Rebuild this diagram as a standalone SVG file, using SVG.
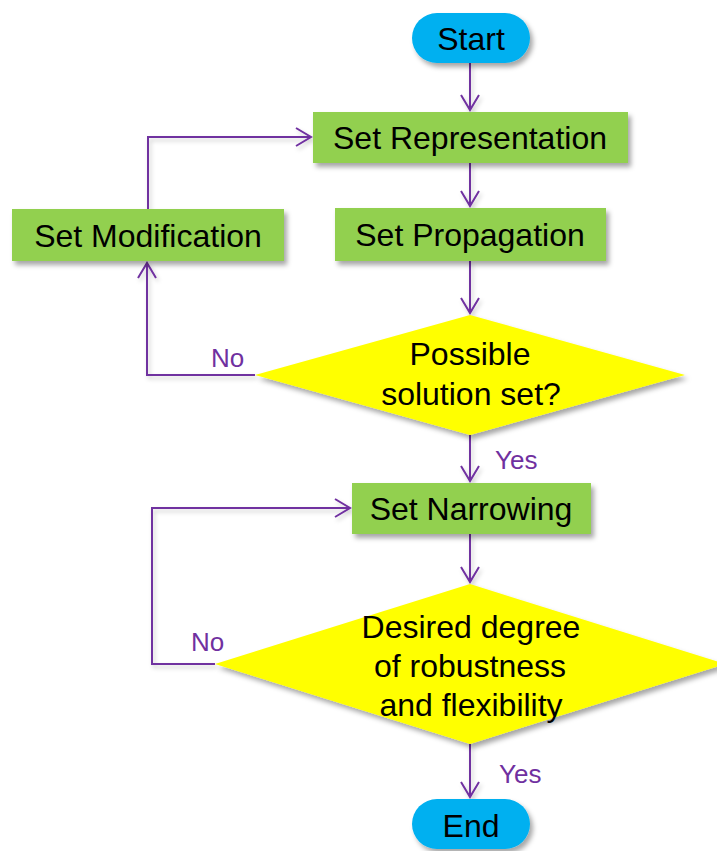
<svg xmlns="http://www.w3.org/2000/svg" width="717" height="851" viewBox="0 0 717 851">
  <defs>
    <filter id="shadow" x="-10%" y="-10%" width="125%" height="135%">
      <feDropShadow dx="3" dy="4" stdDeviation="2.5" flood-color="#000" flood-opacity="0.35"/>
    </filter>
    <filter id="lineShadow" x="-10%" y="-10%" width="130%" height="130%">
      <feDropShadow dx="2" dy="3" stdDeviation="2" flood-color="#000" flood-opacity="0.2"/>
    </filter>
    <marker id="arrow" markerUnits="userSpaceOnUse" markerWidth="20" markerHeight="22" viewBox="-17 -11 19 22" refX="0" refY="0" orient="auto" overflow="visible">
      <path d="M-15,-9 L0,0 L-15,9" fill="none" stroke="#7030A0" stroke-width="2"/>
    </marker>
    <style>
      .proc { fill: #92D050; filter: url(#shadow); }
      .term { fill: #00B0F0; filter: url(#shadow); }
      .dec { fill: #FFFF00; filter: url(#shadow); }
      .lbl { font-family: "Liberation Sans", Arial, sans-serif; font-size: 32px; fill: #000; text-anchor: middle; }
      .edge { fill: none; stroke: #7030A0; stroke-width: 2; marker-end: url(#arrow); }
      .elbl { font-family: "Liberation Sans", Arial, sans-serif; font-size: 26px; fill: #7030A0; }
    </style>
  </defs>

  <!-- connectors -->
  <g id="connectors" filter="url(#lineShadow)">
    <path class="edge" d="M470,63 V110"/>
    <path class="edge" d="M470,163 V206"/>
    <path class="edge" d="M470,261 V313"/>
    <path class="edge" d="M255,375 H147 V263"/>
    <path class="edge" d="M148,209 V137 H311"/>
    <path class="edge" d="M470,435 V481"/>
    <path class="edge" d="M470,534 V582"/>
    <path class="edge" d="M215,664 H152 V508 H350"/>
    <path class="edge" d="M470,744 V797"/>
  </g>

  <!-- edge labels -->
  <g id="edge-labels">
    <text class="elbl" x="211" y="367">No</text>
    <text class="elbl" x="495" y="469">Yes</text>
    <text class="elbl" x="191" y="651">No</text>
    <text class="elbl" x="499" y="783">Yes</text>
  </g>

  <g id="start">
    <rect class="term" x="412" y="13" width="118" height="50" rx="25" ry="25"/>
    <text class="lbl" x="471" y="50">Start</text>
  </g>

  <g id="set-representation">
    <rect class="proc" x="313" y="112" width="315" height="51"/>
    <text class="lbl" x="470" y="149">Set Representation</text>
  </g>

  <g id="set-propagation">
    <rect class="proc" x="335" y="208" width="271" height="53"/>
    <text class="lbl" x="470" y="246">Set Propagation</text>
  </g>

  <g id="set-modification">
    <rect class="proc" x="12" y="209" width="272" height="52"/>
    <text class="lbl" x="148" y="247">Set Modification</text>
  </g>

  <g id="possible-solution">
    <polygon class="dec" points="470,315 685,375 470,435 255,375"/>
    <text class="lbl" x="470" y="365">Possible</text>
    <text class="lbl" x="471" y="405">solution set?</text>
  </g>

  <g id="set-narrowing">
    <rect class="proc" x="352" y="483" width="239" height="51"/>
    <text class="lbl" x="471" y="520">Set Narrowing</text>
  </g>

  <g id="robustness">
    <polygon class="dec" points="470,584 725,664 470,744 215,664"/>
    <text class="lbl" x="471" y="638">Desired degree</text>
    <text class="lbl" x="470" y="677">of robustness</text>
    <text class="lbl" x="471" y="716">and flexibility</text>
  </g>

  <g id="end">
    <rect class="term" x="412" y="799" width="118" height="50" rx="25" ry="25"/>
    <text class="lbl" x="471" y="837">End</text>
  </g>
</svg>
